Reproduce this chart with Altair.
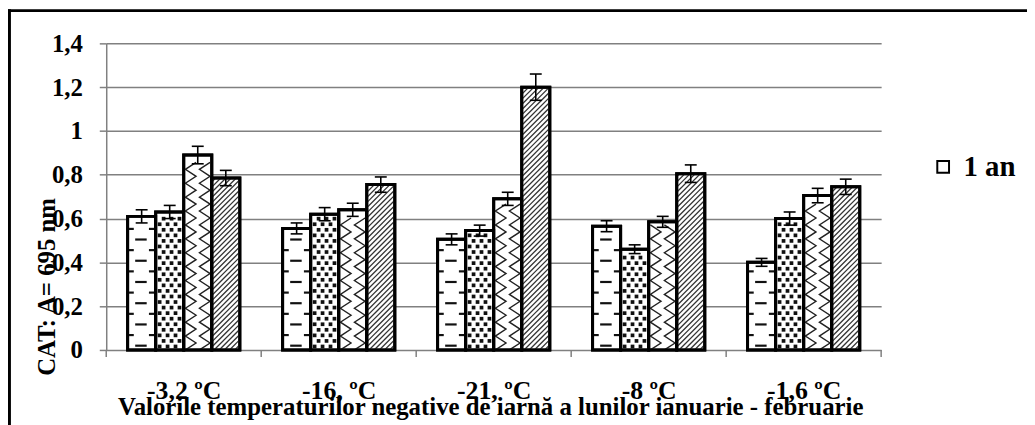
import json
import pandas as pd
import altair as alt

# ---------------- data ----------------
categories = ["-3,2 ºC", "-16, ºC", "-21, ºC", "-8 ºC", "-1,6 ºC"]
legend_label = "1 an"
s1 = [0.61, 0.555, 0.505, 0.565, 0.40]
s2 = [0.63, 0.62, 0.545, 0.46, 0.60]
s3 = [0.89, 0.64, 0.69, 0.585, 0.705]
s4 = [0.785, 0.755, 1.20, 0.805, 0.745]
e1 = [0.03, 0.025, 0.025, 0.025, 0.018]
e2 = [0.03, 0.03, 0.025, 0.02, 0.03]
e3 = [0.04, 0.03, 0.03, 0.025, 0.033]
e4 = [0.035, 0.035, 0.06, 0.04, 0.035]
y_ticks = [0, 0.2, 0.4, 0.6, 0.8, 1.0, 1.2, 1.4]
x_title = "Valorile temperaturilor negative de iarnă a lunilor ianuarie - februarie"
y_title = "CAT: A= 695 nm"

series = [s1, s2, s3, s4]
errors = [e1, e2, e3, e4]

# ---------------- layout ----------------
W, H = 781, 309
NG = len(categories)
YMAX = y_ticks[-1]
PXX = W / NG          # px per x unit
PXY = H / YMAX        # px per y unit
BW = 0.181            # bar width in x units
OFF = (1 - len(series) * BW) / 2
CAP = 6 / PXX
FONT = "Liberation Serif"

rows = []
for g in range(NG):
    for s in range(len(series)):
        xl = g + OFF + s * BW
        v = series[s][g]
        e = errors[s][g]
        rows.append(dict(g=g, s=s, v=v, z=0.0, xl=xl, xr=xl + BW, xc=xl + BW / 2,
                         lo=v - e, hi=v + e, cl=xl + BW / 2 - CAP, cr=xl + BW / 2 + CAP,
                         leg=legend_label))
df = pd.DataFrame(rows)

# pattern: dashes (series 1)
dash = []
for g in range(NG):
    xl = g + OFF
    v = s1[g]
    k = 0
    while True:
        y = (4.3 + k * 10.7) / PXY
        if y > v - 3 / PXY:
            break
        if k % 2 == 0:
            dash.append(dict(x1=xl + 0.27 * BW, x2=xl + 0.68 * BW, y=y))
        else:
            dash.append(dict(x1=xl, x2=xl + 0.22 * BW, y=y))
            dash.append(dict(x1=xl + 0.76 * BW, x2=xl + BW, y=y))
        k += 1
dash_df = pd.DataFrame(dash)

# pattern: dots (series 2)
dots = []
bwpx = BW * PXX
for g in range(NG):
    xl = g + OFF + BW
    v = s2[g]
    r = 0
    while True:
        ypx = 3.5 + r * 5.6
        if ypx > v * PXY - 3:
            break
        xpx = 4 + (4 if r % 2 else 0)
        while xpx < bwpx - 2.5:
            dots.append(dict(x=xl + xpx / PXX, y=ypx / PXY))
            xpx += 8
        r += 1
dots_df = pd.DataFrame(dots)

# pattern: waves (series 3)
waves = []
lid = 0
for g in range(NG):
    xl = g + OFF + 2 * BW
    v = s3[g]
    for base in (0.25, 0.75):
        k = 0
        while True:
            ypx = k * 7.0
            if ypx > v * PXY - 2:
                break
            dx = 0.19 if k % 2 else -0.19
            waves.append(dict(x=xl + (base + dx) * BW, y=ypx / PXY, k=k, lid=lid))
            k += 1
        lid += 1
waves_df = pd.DataFrame(waves)

# pattern: diagonal hatch (series 4)
diag = []
for g in range(NG):
    xl = g + OFF + 3 * BW
    hpx = s4[g] * PXY
    c = -bwpx
    while c < hpx:
        x0 = max(0.0, -c)
        x1 = min(bwpx, hpx - c)
        if x1 > x0:
            diag.append(dict(x1=xl + x0 / PXX, x2=xl + x1 / PXX,
                             y1=(x0 + c) / PXY, y2=(x1 + c) / PXY))
        c += 5.2
diag_df = pd.DataFrame(diag)

ticks_df = pd.DataFrame({"xt": list(range(NG + 1))})

# ---------------- scales / axes ----------------
xs = alt.Scale(domain=[0, NG], nice=False, zero=False)
ys = alt.Scale(domain=[0, YMAX], nice=False)

label_arr = json.dumps(categories, ensure_ascii=False)
xaxis = alt.Axis(values=[i + 0.5 for i in range(NG)],
                 labelExpr=f"{label_arr}[floor(datum.value)]",
                 ticks=False, domain=False, grid=False,
                 labelFont=FONT, labelFontSize=26, labelFontWeight="bold", labelColor="black",
                 labelBaseline="alphabetic", labelPadding=49, labelAlign="center",
                 title=x_title, titleFont=FONT, titleFontSize=25, titleFontWeight="bold",
                 titleColor="black", titleX=387, titleY=65, titleAlign="center",
                 titleBaseline="alphabetic", titleAnchor="start")
yaxis = alt.Axis(values=y_ticks,
                 labelExpr="replace(format(datum.value, '.1~f'), '.', ',')",
                 labelFont=FONT, labelFontSize=25, labelFontWeight="bold", labelColor="black",
                 labelPadding=17, tickSize=7, tickColor="#808080", tickWidth=1.5,
                 domainColor="#808080", domainWidth=1.5,
                 gridColor="#808080", gridWidth=1.5,
                 title=y_title, titleFont=FONT, titleFontSize=25, titleFontWeight="bold",
                 titleColor="black", titleX=-52, titleY=245, titleAngle=270,
                 titleAlign="center", titleBaseline="alphabetic", titleAnchor="start")


def X(f):
    return alt.X(f, type="quantitative", scale=xs, axis=xaxis)


def Y(f):
    return alt.Y(f, type="quantitative", scale=ys, axis=yaxis)


bars = alt.Chart(df).mark_rect(stroke="black", strokeWidth=3).encode(
    x=X("xl"), x2="xr", y=Y("v"), y2="z",
    fill=alt.Fill("leg:N", scale=alt.Scale(domain=[legend_label], range=["white"]),
                  legend=alt.Legend(title=None, orient="none", legendX=829, legendY=110,
                                    symbolType="square", symbolSize=140,
                                    symbolStrokeColor="black", symbolStrokeWidth=2,
                                    symbolFillColor="white", labelFont=FONT,
                                    labelFontSize=29, labelFontWeight="bold",
                                    labelColor="black", labelOffset=6, padding=0)),
)

dash_l = alt.Chart(dash_df).mark_rule(stroke="#111", strokeWidth=2.2).encode(
    x=X("x1"), x2="x2", y=Y("y"))
dots_l = alt.Chart(dots_df).mark_square(size=14, color="#111", opacity=1).encode(
    x=X("x"), y=Y("y"))
waves_l = alt.Chart(waves_df).mark_line(stroke="#222", strokeWidth=1.4).encode(
    x=X("x"), y=Y("y"), detail="lid:N", order="k:Q")
diag_l = alt.Chart(diag_df).mark_rule(stroke="#333", strokeWidth=1.3).encode(
    x=X("x1"), x2="x2", y=Y("y1"), y2="y2")

outline = alt.Chart(df).mark_rect(fillOpacity=0, stroke="black", strokeWidth=3).encode(
    x=X("xl"), x2="xr", y=Y("v"), y2="z")

err_v = alt.Chart(df).mark_rule(stroke="black", strokeWidth=1.6).encode(
    x=X("xc"), y=Y("lo"), y2="hi")
err_t = alt.Chart(df).mark_rule(stroke="black", strokeWidth=1.6).encode(
    x=X("cl"), x2="cr", y=Y("hi"))
err_b = alt.Chart(df).mark_rule(stroke="black", strokeWidth=1.6).encode(
    x=X("cl"), x2="cr", y=Y("lo"))

xticks = alt.Chart(ticks_df).mark_rule(stroke="#808080", strokeWidth=1.5).encode(
    x=X("xt"), y=alt.value(H), y2=alt.value(H + 7))

one = pd.DataFrame({"k": [0]})
border_top = alt.Chart(one).mark_rule(stroke="black", strokeWidth=3).encode(
    x=alt.value(-99), x2=alt.value(940), y=alt.value(-33))
border_left = alt.Chart(one).mark_rule(stroke="black", strokeWidth=3.5).encode(
    x=alt.value(-97.8), y=alt.value(-34.5), y2=alt.value(400))

chart = alt.layer(
    bars, dash_l, dots_l, waves_l, diag_l, outline, err_v, err_t, err_b, xticks,
    border_top, border_left
).properties(
    width=W, height=H,
    autosize=alt.AutoSizeParams(type="none"),
    padding={"left": 99, "top": 34, "right": 147, "bottom": 74},
    background="white",
).configure_view(strokeWidth=0)

chart.save("out.html", embed_options={"renderer": "svg", "actions": False})
